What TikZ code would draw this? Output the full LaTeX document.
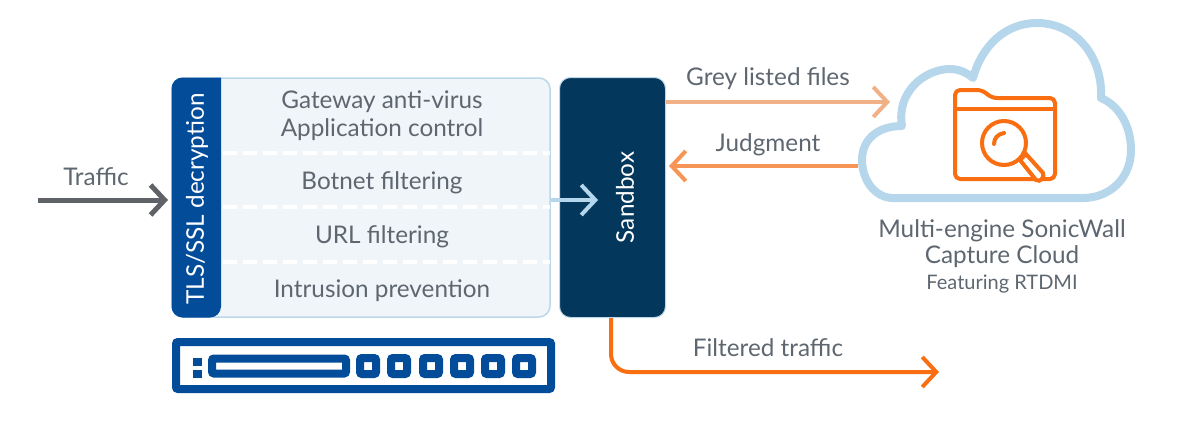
\documentclass[tikz,border=0pt]{standalone}
\usepackage{fontspec}
\setmainfont{Lato}
\usetikzlibrary{arrows.meta}
\definecolor{txtgrey}{HTML}{5E6770}
\definecolor{panelfill}{HTML}{EFF5F9}
\definecolor{panelline}{HTML}{BBD7E9}
\definecolor{ngblue}{HTML}{034C9A}
\definecolor{sandblue}{HTML}{03385C}
\definecolor{cloudblue}{HTML}{B6D7EB}
\definecolor{orangedark}{HTML}{FA6E12}
\definecolor{orangemid}{HTML}{F79556}
\definecolor{orangelight}{HTML}{F0B088}
\definecolor{arrowgrey}{HTML}{5F6368}
\tikzset{
  label/.style={text=txtgrey,font=\fontsize{24.3}{28}\selectfont,align=center,inner sep=0pt},
  flow/.style={line width=4pt,-{Straight Barb[length=14pt,width=30pt,line width=4pt]}},
  divider/.style={white,line width=4pt,dash pattern=on 14pt off 6pt},
  port/.style={draw=ngblue,line width=8pt,fill=white,minimum size=16pt,inner sep=0pt,rounded corners=2pt},
}

\begin{document}
\begin{tikzpicture}[x=1pt,y=-1pt]
    \useasboundingbox (0,0) rectangle (1189,423);

    % firewall panel
    \node (panel) at (361,197.5) [draw=panelline,line width=1.5pt,fill=panelfill,rounded corners=11pt,minimum width=378pt,minimum height=239pt,inner sep=0pt] {};
    \fill[ngblue,rounded corners=11pt] (221,77.5) -- (171.5,77.5) -- (171.5,317.5) -- (221,317.5) [sharp corners] -- cycle;
    \node (tls) at (197,199) [rotate=90,text=white,font=\fontsize{24.3}{28}\selectfont,inner sep=0pt] {TLS/SSL decryption};

    \draw[divider] (223,153) -- (550,153);
    \draw[divider] (223,207) -- (550,207);
    \draw[divider] (223,262) -- (550,262);

    \node (gateway) at (382,116) [label] {Gateway anti-virus\\Application control};
    \node (botnet)  at (382,183) [label] {Botnet filtering};
    \node (url)     at (382,237) [label] {URL filtering};
    \node (ips)     at (382,291) [label] {Intrusion prevention};

    \node (sandbox) at (612.5,197.5) [draw=panelline,line width=1pt,fill=sandblue,rounded corners=11pt,minimum width=106pt,minimum height=240pt,inner sep=0pt] {};
    \node (sandtxt) at (625,197.5) [rotate=90,text=white,font=\fontsize{24.3}{28}\selectfont,inner sep=0pt] {Sandbox};

    % appliance
    \node (box) at (363.5,365.5) [draw=ngblue,line width=8pt,rounded corners=2pt,minimum width=375pt,minimum height=47pt,inner sep=0pt] {};
    \node (slot) at (279,366) [draw=ngblue,line width=8pt,rounded corners=2pt,minimum width=134pt,minimum height=15pt,inner sep=0pt] {};
    \fill[ngblue] (193,358) rectangle (202,366);
    \fill[ngblue] (193,370) rectangle (202,378);
    \foreach \i/\x in {0/368,1/399,2/431,3/462,4/493,5/524} {
      \node (port\i) at (\x,366) [port] {};
    }

    % cloud
    \draw[cloudblue,line width=8pt,line cap=round,line join=round,fill=white]
      (973,78) .. controls (982,45) and (1006,23) .. (1037,23)
      .. controls (1075,23) and (1103,56) .. (1101,98)
      .. controls (1120,106) and (1131,127) .. (1131,150)
      .. controls (1131,178) and (1110,198) .. (1083,198)
      -- (893,198)
      .. controls (875,198) and (862,180) .. (862,160)
      .. controls (862,140) and (877,126) .. (902,126)
      .. controls (896,92) and (925,69) .. (950,69)
      .. controls (958,69) and (966,72) .. (973,78) -- cycle;

    % folder with magnifier
    \draw[orangedark,line width=4pt,line join=round,rounded corners=5pt]
      (955,179) -- (955,90) -- (982,90) -- (992,98) -- (1055,98) -- (1055,179) -- cycle;
    \draw[orangedark,line width=4pt] (955,109) -- (1055,109);
    \draw[orangedark,line width=4pt,fill=white] (1020,160) -- (1026,154) -- (1043,173) .. controls (1045,177) and (1040,183) .. (1036,180) -- cycle;
    \draw[orangedark,line width=4pt,fill=white] (1004,143) circle (22);
    \draw[orangedark,line width=4pt,line cap=round] (994,144) .. controls (994,138) and (998,134) .. (1004,133);

    \node (cap1) at (1002,231) [label] {Multi-engine SonicWall};
    \node (cap2) at (1002,257) [label] {Capture Cloud};
    \node (cap3) at (1002,284) [label,font=\fontsize{20}{24}\selectfont] {Featuring RTDMI};

    % connectors
    \node (traffic)  at (96,177)  [label] {Traffic};
    \node (grey)     at (768,79)  [label] {Grey listed files};
    \node (judgment) at (768,145) [label] {Judgment};
    \node (filtered) at (768,348) [label] {Filtered traffic};

    \coordinate (trafficin) at (38,200);
    \coordinate (trafficend) at (168,200);
    \coordinate (greyend) at (890,102);
    \coordinate (judgstart) at (858,166);
    \coordinate (judgend) at (669,166);
    \coordinate (filtend) at (939,372);

    \draw [flow,arrowgrey,line width=5pt,-{Straight Barb[length=14pt,width=30pt,line width=5pt]}] (trafficin) -- (trafficend);
    \draw [flow,cloudblue] (panel.east |- trafficend) -- (598,200);
    \draw [flow,orangelight] (sandbox.east |- greyend) -- (greyend);
    \draw [flow,orangemid] (judgstart) -- (judgend);
    \draw [flow,orangedark,rounded corners=18pt] (611,318) -- (611,372) -- (filtend);
\end{tikzpicture}
\end{document}
